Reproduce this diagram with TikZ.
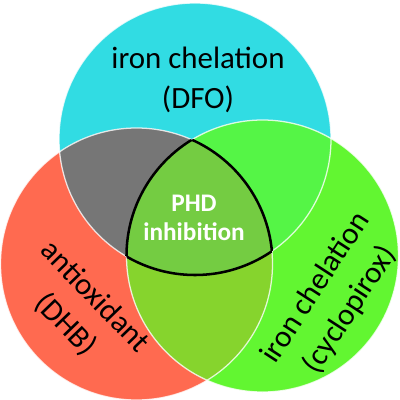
\documentclass[tikz,border=0pt]{standalone}
\usepackage{xcolor}
\usepackage{fontspec}
\setmainfont{Carlito}
\usepackage{tikz}
\usetikzlibrary{positioning, calc}

\definecolor{dfocyan}{HTML}{31DCE3}
\definecolor{dhbred}{HTML}{FF6A50}
\definecolor{cpxgreen}{HTML}{62F631}
\definecolor{dfodhb}{HTML}{767676}
\definecolor{dfocpx}{HTML}{55F546}
\definecolor{dhbcpx}{HTML}{86D42D}
\definecolor{phdgreen}{HTML}{74CC42}

\tikzset{
	ring/.style={white, line width=0.9pt, opacity=0.8},
	arm/.style={font=\fontsize{22}{29}\selectfont, align=center, text=black},
	phd/.style={font=\bfseries\fontsize{18}{21}\selectfont, align=center, text=white}
}

\begin{document}
\begin{tikzpicture}[x=0.025cm, y=-0.025cm]
			\useasboundingbox (0,0) rectangle (400,400);
			
			\coordinate (dfo) at (195,139);
			\coordinate (dhb) at (136.5,264);
			\coordinate (cpx) at (262.5,256);
			
			\fill[dfocyan] (dfo) circle[radius=136];
			\fill[dhbred] (dhb) circle[radius=136];
			\fill[cpxgreen] (cpx) circle[radius=136];
			
			\begin{scope}
			\clip (dfo) circle[radius=136];
			\fill[dfodhb] (dhb) circle[radius=136];
			\fill[dfocpx] (cpx) circle[radius=136];
			\end{scope}
			
			\begin{scope}
			\clip (dhb) circle[radius=136];
			\fill[dhbcpx] (cpx) circle[radius=136];
			\clip (cpx) circle[radius=136];
			\fill[phdgreen] (dfo) circle[radius=136];
			\end{scope}
			
			\foreach \c in {dfo, dhb, cpx}
			\draw[ring] (\c) circle[radius=136];
			
			\begin{scope}
			\clip (dhb) circle[radius=136];
			\clip (cpx) circle[radius=136];
			\draw[line width=1.8pt] (dfo) circle[radius=136];
			\end{scope}
			\begin{scope}
			\clip (dfo) circle[radius=136];
			\clip (cpx) circle[radius=136];
			\draw[line width=1.8pt] (dhb) circle[radius=136];
			\end{scope}
			\begin{scope}
			\clip (dfo) circle[radius=136];
			\clip (dhb) circle[radius=136];
			\draw[line width=1.8pt] (cpx) circle[radius=136];
			\end{scope}
			
			\node[arm] (dfolabel) at (198,80) {iron chelation\\(DFO)};
			\node[arm, rotate=-46] (dhblabel) at (80,311) {antioxidant\\(DHB)};
			\node[arm, rotate=57] (cpxlabel) at (333,299) {iron chelation\\(cyclopirox)};
			
			\node[phd] (phdlabel) at (194,218) {PHD\\inhibition};
			
			\end{tikzpicture}
\end{document}
